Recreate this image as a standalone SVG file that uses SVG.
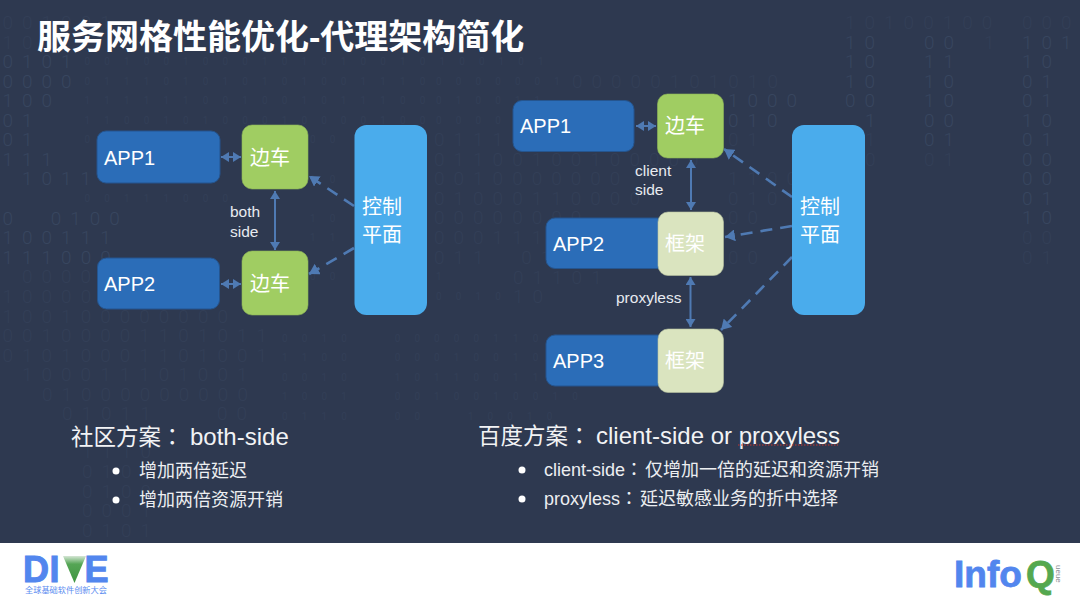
<svg xmlns="http://www.w3.org/2000/svg" width="1080" height="607" viewBox="0 0 1080 607">
<style>
text{font-family:"Liberation Sans","Noto Sans CJK SC",sans-serif;fill:#fff}
.d,.f{font-family:Roboto,sans-serif;font-weight:300;font-size:19px;letter-spacing:9px;word-spacing:15px;white-space:pre}
.d{fill:#38465f}
.f{fill:#333f57}
.s{font-family:Roboto,sans-serif;font-size:10px;letter-spacing:14.1px;word-spacing:17.200px;white-space:pre;fill:#333f57}
.app{fill:#2b6db8;stroke:#25558f;stroke-width:1}
.car{fill:#a0cd62;stroke:#8fb758;stroke-width:.6}
.fw{fill:#dae4bf;stroke:#b9c3a0;stroke-width:.6}
.cp{fill:#4aacec}
.l{font-size:20px}
.n{font-size:20px}
.t{font-size:15.500px;fill:#e8ebf0}
.h{font-size:22.500px;fill:#f2f3f5}
.hl{font-size:24px}
.b{font-size:18px;fill:#eceef1}
.c{font-family:"Noto Sans CJK JP",sans-serif}
.a{fill:none;stroke:#4f7ab3;stroke-width:2;marker-start:url(#hs);marker-end:url(#he)}
.da{fill:none;stroke:#4f7ab3;stroke-width:2.600;stroke-dasharray:12 8;marker-end:url(#he2)}
.logo{fill:#5286ee;stroke:#5286ee;stroke-width:1}
</style>
<defs>
<marker id="he" markerUnits="userSpaceOnUse" markerWidth="9" markerHeight="10" refX="8" refY="5" orient="auto"><path d="M0 0L8 5L0 10Z" fill="#4f7ab3"/></marker>
<marker id="hs" markerUnits="userSpaceOnUse" markerWidth="9" markerHeight="10" refX="0" refY="5" orient="auto"><path d="M8 0L0 5L8 10Z" fill="#4f7ab3"/></marker>
<marker id="he2" markerUnits="userSpaceOnUse" markerWidth="11" markerHeight="12" refX="10" refY="6" orient="auto"><path d="M0 0L10 6L0 12Z" fill="#4f7ab3"/></marker>
<linearGradient id="tri" x1="0" y1="0" x2="0" y2="1"><stop offset="0" stop-color="#d5e6d5"/><stop offset=".3" stop-color="#55a555"/><stop offset="1" stop-color="#3f9440"/></linearGradient>
</defs>
<rect width="1080" height="607" fill="#2e3950"/>
<g id="background-digits">
<text class="f" x="2.500" y="29">001001</text>
<text class="f" x="2.500" y="49">10</text>
<text class="d" x="2.500" y="68">0101</text>
<text class="d" x="2.500" y="88">0000</text>
<text class="d" x="2.500" y="107">100</text>
<text class="d" x="2.500" y="127">01</text>
<text class="d" x="2.500" y="146">01</text>
<text class="d" x="2.500" y="166">111</text>
<text class="d" x="22" y="185">1011</text>
<text class="d" x="2.500" y="225">0 0100</text>
<text class="d" x="2.500" y="244">100111</text>
<text class="d" x="2.500" y="264">111000</text>
<text class="f" x="22" y="283">0000</text>
<text class="f" x="2.500" y="303">10000</text>
<text class="f" x="2.500" y="323">100100000000</text>
<text class="f" x="2.500" y="342">00100001101011</text>
<text class="f" x="2.500" y="362">01010001101001</text>
<text class="f" x="22" y="381">100011101001</text>
<text class="f" x="42" y="401">01000000000</text>
<text class="f" x="62" y="420">01011  00</text>
<text class="f" x="82" y="458">1110</text>
<text class="f" x="82" y="478">0101</text>
<text class="f" x="82" y="498">0100</text>
<text class="f" x="82" y="517">0001</text>
<text class="f" x="82" y="537">0101</text>
<text class="s" x="84.500" y="65">001001000101010010100101</text>
<text class="s" x="84.500" y="85">011101010101001110</text>
<text class="s" x="84.500" y="104">111111001001011100</text>
<text class="s" x="84.500" y="124">110010100010000100</text>
<text class="s" x="84.500" y="143">00100</text>
<text class="s" x="84.500" y="202">00111000</text>
<text class="s" x="310" y="143">00</text>
<text class="s" x="310" y="183">10</text>
<text class="s" x="310" y="222">10</text>
<text class="s" x="310" y="241">11</text>
<text class="s" x="310" y="280">00</text>
<text class="s" x="282" y="342">0010 000001100</text>
<text class="s" x="282" y="361">1100 0001001011</text>
<text class="s" x="282" y="381">0010 1011001101</text>
<text class="s" x="282" y="400">1001 0010010010</text>
<text class="s" x="282" y="420">0110 00 10010</text>
<text class="s" x="436" y="85">0000001</text>
<text class="f" x="572" y="88">00000101010</text>
<text class="s" x="436" y="104">010011</text>
<text class="d" x="728" y="107">1000</text>
<text class="s" x="436" y="124">00000</text>
<text class="d" x="728" y="127">010</text>
<text class="f" x="434" y="146">01111</text>
<text class="f" x="728" y="146">01</text>
<text class="f" x="434" y="166">01100100100000</text>
<text class="f" x="434" y="185">0010000000</text>
<text class="f" x="728" y="185">1100</text>
<text class="f" x="434" y="205">01000110000</text>
<text class="f" x="728" y="205">0101</text>
<text class="f" x="434" y="224">00000000</text>
<text class="f" x="728" y="224">00</text>
<text class="f" x="434" y="244">000111</text>
<text class="f" x="434" y="264">011 01</text>
<text class="f" x="728" y="264">00</text>
<text class="s" x="436" y="280">1</text>
<text class="f" x="513" y="284">01101</text>
<text class="s" x="436" y="300">0010</text>
<text class="f" x="513" y="303">10</text>
<text class="f" x="845" y="29">10100100</text>
<text class="f" x="1022" y="29">000</text>
<text class="d" x="845" y="49">10</text>
<text class="d" x="924" y="49">00</text>
<text class="f" x="984" y="49">1</text>
<text class="d" x="1022" y="49">101</text>
<text class="d" x="845" y="68">10</text>
<text class="d" x="924" y="68">11</text>
<text class="d" x="1022" y="68">10</text>
<text class="d" x="845" y="88">10</text>
<text class="d" x="924" y="88">10</text>
<text class="d" x="1022" y="88">01</text>
<text class="d" x="845" y="107">00</text>
<text class="d" x="924" y="107">10</text>
<text class="d" x="1022" y="107">01</text>
<text class="d" x="865" y="127">1</text>
<text class="d" x="924" y="127">00</text>
<text class="d" x="1022" y="127">10</text>
<text class="f" x="865" y="146">1</text>
<text class="d" x="924" y="146">01</text>
<text class="d" x="1022" y="146">01</text>
<text class="f" x="865" y="166">0</text>
<text class="f" x="924" y="166">01</text>
<text class="d" x="1022" y="166">00</text>
<text class="d" x="1022" y="185">00</text>
<text class="d" x="1022" y="205">01</text>
<text class="d" x="1022" y="224">10</text>
<text class="f" x="1022" y="244">00</text>
<text class="f" x="1022" y="264">01</text>
</g>
<g id="footer"><rect y="543" width="1080" height="64" fill="#fff"/></g>
<text id="title" x="37" y="49" font-size="34" font-weight="700">服务网格性能优化-代理架构简化</text>
<g id="connectors">
<path class="a" d="M221 157H241"/>
<path class="a" d="M221 284H241"/>
<path class="a" d="M275 191V250"/>
<path class="da" d="M354 206L309 176"/>
<path class="da" d="M354 248L309 274"/>
<path class="a" d="M636 126H656"/>
<path class="a" d="M691 160V210"/>
<path class="a" d="M690.500 277V327"/>
<path class="da" d="M792 197L724 149"/>
<path class="da" d="M792 226L725 237"/>
<path class="da" d="M792 257L721 330"/>
</g>
<g id="l-app1"><rect class="app" x="97" y="131" width="123" height="52" rx="9"/><text class="l" x="104" y="165">APP1</text></g>
<g id="l-sidecar1"><rect class="car" x="242" y="125" width="66" height="64" rx="10"/><text class="n" x="250" y="165">边车</text></g>
<g id="l-app2"><rect class="app" x="97.500" y="258" width="122" height="51" rx="9"/><text class="l" x="104" y="291">APP2</text></g>
<g id="l-sidecar2"><rect class="car" x="242" y="251" width="66" height="64" rx="10"/><text class="n" x="250" y="291">边车</text></g>
<g id="l-control"><rect class="cp" x="354.500" y="125" width="72.500" height="190" rx="12"/><text class="n" x="362" y="214">控制</text><text class="n" x="362" y="242">平面</text></g>
<text class="t" x="230" y="217">both</text>
<text class="t" x="230" y="237">side</text>
<g id="r-app1"><rect class="app" x="513" y="100.500" width="121" height="51" rx="9"/><text class="l" x="520" y="133">APP1</text></g>
<g id="r-sidecar"><rect class="car" x="657.500" y="94" width="66" height="64" rx="10"/><text class="n" x="665" y="133">边车</text></g>
<g id="r-app2"><rect class="app" x="546" y="218" width="120" height="50.500" rx="9"/><text class="l" x="553" y="251">APP2</text></g>
<g id="r-fw2"><rect class="fw" x="658" y="212" width="65.500" height="63.500" rx="10"/><text class="n" x="665" y="251">框架</text></g>
<g id="r-app3"><rect class="app" x="546" y="335" width="120" height="51" rx="9"/><text class="l" x="553" y="368">APP3</text></g>
<g id="r-fw3"><rect class="fw" x="658" y="329" width="65.500" height="63.500" rx="10"/><text class="n" x="665" y="368">框架</text></g>
<g id="r-control"><rect class="cp" x="792" y="125" width="73" height="190" rx="12"/><text class="n" x="800" y="214">控制</text><text class="n" x="800" y="242">平面</text></g>
<text class="t" x="635" y="176">client</text>
<text class="t" x="635" y="195">side</text>
<text class="t" x="616" y="303">proxyless</text>
<g id="left-notes">
<text class="h" x="71" y="445">社区方案<tspan class="c">：</tspan><tspan class="hl" x="190">both-side</tspan></text>
<circle cx="116" cy="471" r="3.500" fill="#fff"/><text class="b" x="139" y="477">增加两倍延迟</text>
<circle cx="116" cy="500" r="3.500" fill="#fff"/><text class="b" x="139" y="506">增加两倍资源开销</text>
</g>
<g id="right-notes">
<text class="h" x="478" y="444">百度方案<tspan class="c">：</tspan><tspan class="hl" x="596">client-side or proxyless</tspan></text>
<path d="M738 445H838" stroke="#c8362e" stroke-width="1" stroke-dasharray="1.500 1.500" fill="none"/>
<circle cx="522" cy="470" r="3.500" fill="#fff"/><text class="b" x="544" y="476">client-side<tspan class="c">：</tspan><tspan x="645">仅增加一倍的延迟和资源开销</tspan></text>
<circle cx="522" cy="499" r="3.500" fill="#fff"/><text class="b" x="544" y="505">proxyless<tspan class="c">：</tspan><tspan x="640">延迟敏感业务的折中选择</tspan></text>
</g>
<g id="dive-logo">
<text class="logo" x="23" y="582" font-size="36" font-weight="700">D</text>
<text class="logo" x="49.500" y="582" font-size="36" font-weight="700">I</text>
<polygon points="63,556 86,556 74.500,583" fill="url(#tri)"/>
<text class="logo" x="84.500" y="582" font-size="36" font-weight="700">E</text>
<text x="25" y="593" font-size="8.200" style="fill:#5a8cf0">全球基础软件创新大会</text>
</g>
<g id="infoq-logo">
<text class="logo" x="954" y="587" font-size="37" font-weight="700" style="stroke-width:.8">Info</text>
<text x="1026" y="587" font-size="37" font-weight="700" style="fill:#55a84f;stroke:#55a84f;stroke-width:.8">Q</text>
<text x="1056" y="565" font-size="8" transform="rotate(90 1056 565)" style="fill:#8a8f96">ueue</text>
</g>
</svg>
